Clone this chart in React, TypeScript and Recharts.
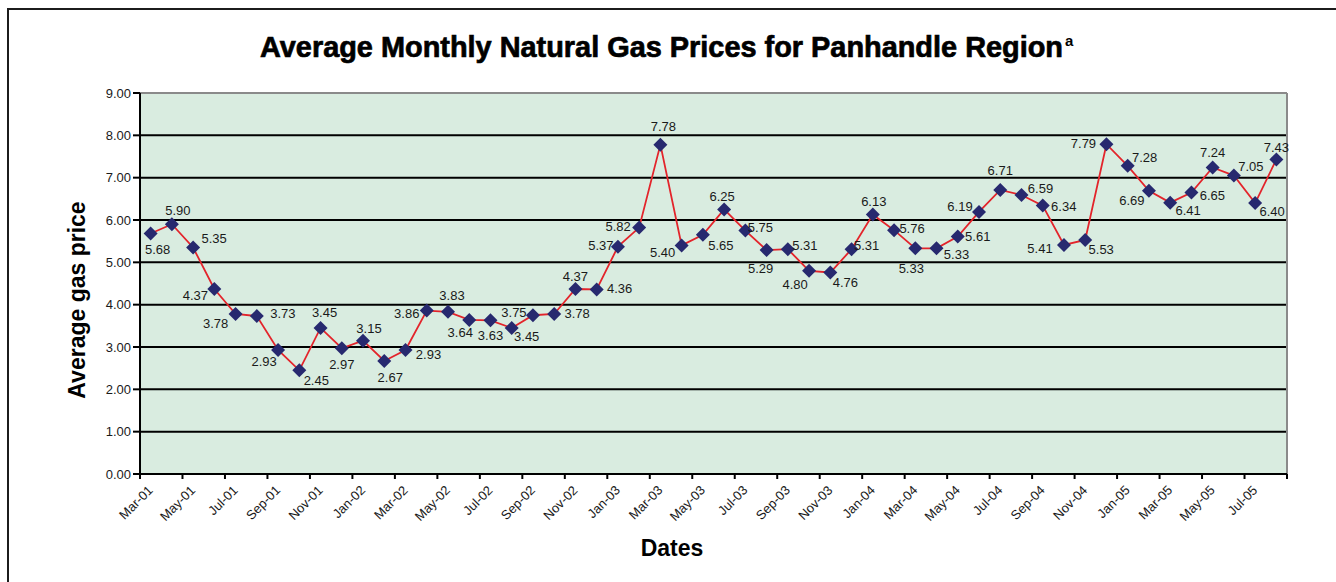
import React from 'react';
import { LineChart, Line, XAxis, YAxis, CartesianGrid, LabelList } from 'recharts';

const months = [
  'Mar-01', 'Apr-01', 'May-01', 'Jun-01', 'Jul-01', 'Aug-01', 'Sep-01', 'Oct-01', 'Nov-01', 'Dec-01',
  'Jan-02', 'Feb-02', 'Mar-02', 'Apr-02', 'May-02', 'Jun-02', 'Jul-02', 'Aug-02', 'Sep-02', 'Oct-02', 'Nov-02', 'Dec-02',
  'Jan-03', 'Feb-03', 'Mar-03', 'Apr-03', 'May-03', 'Jun-03', 'Jul-03', 'Aug-03', 'Sep-03', 'Oct-03', 'Nov-03', 'Dec-03',
  'Jan-04', 'Feb-04', 'Mar-04', 'Apr-04', 'May-04', 'Jun-04', 'Jul-04', 'Aug-04', 'Sep-04', 'Oct-04', 'Nov-04', 'Dec-04',
  'Jan-05', 'Feb-05', 'Mar-05', 'Apr-05', 'May-05', 'Jun-05', 'Jul-05', 'Aug-05',
];

const prices = [
  5.68, 5.90, 5.35, 4.37, 3.78, 3.73, 2.93, 2.45, 3.45, 2.97,
  3.15, 2.67, 2.93, 3.86, 3.83, 3.64, 3.63, 3.45, 3.75, 3.78, 4.37, 4.36,
  5.37, 5.82, 7.78, 5.40, 5.65, 6.25, 5.75, 5.29, 5.31, 4.80, 4.76, 5.31,
  6.13, 5.76, 5.33, 5.33, 5.61, 6.19, 6.71, 6.59, 6.34, 5.41, 5.53, 7.79,
  7.28, 6.69, 6.41, 6.65, 7.24, 7.05, 6.40, 7.43,
];

const yTicks = [0, 1, 2, 3, 4, 5, 6, 7, 8, 9];

// label placement offsets (dx, dy) relative to each marker (styling only)
const labelOffsets: [number, number][] = [
  [7, 16], [6, -14], [21, -9], [-19, 6], [-20, 10], [26, -3], [-14, 12], [17, 10], [4, -15], [0, 16],
  [6, -12], [6, 17], [23, 5], [-20, 3], [4, -16], [-9, 13], [0, 15], [15, 9], [-19, -3], [23, 0], [0, -13], [23, -1],
  [-17, -1], [-21, -1], [3, -18], [-19, 7], [18, 11], [-2, -13], [15, -3], [-6, 18], [17, -4], [-14, 14], [15, 10], [15, -4],
  [1, -13], [18, -2], [-4, 20], [20, 6], [20, 0], [-19, -5], [0, -19], [19, -7], [21, 1], [-24, 4], [16, 10], [-23, -1],
  [17, -8], [-17, 10], [18, 8], [21, 3], [0, -15], [17, -9], [17, 8], [0, -12],
];

const W = 1336;
const H = 582;
const M = { top: 93, right: 49, bottom: 48, left: 80 };
const Y_AXIS_W = 60;
const X_AXIS_H = 60;
const PLOT_L = M.left + Y_AXIS_W;
const PLOT_R = W - M.right;
const PLOT_T = M.top;
const BAND = (PLOT_R - PLOT_L) / months.length;

const data = months.map((m, i) => ({ month: m, price: prices[i] }));

const FONT = "'Liberation Sans', Arial, Helvetica, sans-serif";

function XTick(props: any) {
  const { x, y, payload } = props;
  const i = props.index ?? payload?.index ?? 0;
  const els: React.ReactNode[] = [];
  if (i % 2 === 0) {
    els.push(
      <line key="t" x1={x - BAND / 2} x2={x - BAND / 2} y1={y} y2={y + 5} stroke="#000" strokeWidth={2} />
    );
    const tx = x + 3;
    const ty = y + 17;
    els.push(
      <text
        key="l"
        x={tx}
        y={ty}
        transform={`rotate(-45, ${tx}, ${ty})`}
        textAnchor="end"
        fontSize={13}
        fontFamily={FONT}
        fill="#1a1a1a"
      >
        {payload.value}
      </text>
    );
  }
  if (i === months.length - 1) {
    els.push(
      <line key="e" x1={x + BAND / 2} x2={x + BAND / 2} y1={y} y2={y + 5} stroke="#000" strokeWidth={2} />
    );
  }
  return <g>{els}</g>;
}

function YTick(props: any) {
  const { x, y, payload } = props;
  return (
    <text x={x} y={y + 4.5} textAnchor="end" fontSize={13} fontFamily={FONT} fill="#1a1a1a">
      {Number(payload.value).toFixed(2)}
    </text>
  );
}

function Diamond(props: any) {
  const { cx, cy, index } = props;
  if (cx == null || cy == null) return <g key={index} />;
  const r = 7;
  return (
    <polygon
      key={index}
      points={`${cx},${cy - r} ${cx + r},${cy} ${cx},${cy + r} ${cx - r},${cy}`}
      fill="#27296f"
    />
  );
}

function PriceLabel(props: any) {
  const { x, y, value, index } = props;
  const off = labelOffsets[index] || [0, -14];
  return (
    <text
      x={x + off[0]}
      y={y + off[1] + 4.5}
      textAnchor="middle"
      fontSize={13}
      fontFamily={FONT}
      fill="#1a1a1a"
    >
      {Number(value).toFixed(2)}
    </text>
  );
}

export default function App() {
  return (
    <div style={{ position: 'absolute', left: 0, top: 0, width: W, height: H, background: '#fff', overflow: 'hidden' }}>
      <div style={{ position: 'absolute', left: 8, top: 8, width: W, height: 2, background: '#1c1c1c' }} />
      <div style={{ position: 'absolute', left: 7, top: 8, width: 2, height: H, background: '#1c1c1c' }} />
      <div style={{ position: 'absolute', left: 0, top: 0 }}>
        <LineChart width={W} height={H} data={data} margin={M}>
          <CartesianGrid
            vertical={false}
            stroke="#000"
            strokeWidth={2}
            fill="#d9ece0"
            fillOpacity={1}
          />
          <CartesianGrid
            horizontalPoints={[PLOT_T]}
            verticalPoints={[PLOT_R]}
            stroke="#8a8a8a"
            strokeWidth={2}
          />
          <XAxis
            dataKey="month"
            scale="band"
            interval={0}
            height={X_AXIS_H}
            tickSize={0}
            tickMargin={0}
            tickLine={false}
            axisLine={{ stroke: '#000', strokeWidth: 2 }}
            tick={<XTick />}
          />
          <YAxis
            domain={[0, 9]}
            ticks={yTicks}
            width={Y_AXIS_W}
            tickSize={7}
            tickMargin={2}
            tick={<YTick />}
            tickLine={{ stroke: '#000', strokeWidth: 2 }}
            axisLine={{ stroke: '#000', strokeWidth: 2 }}
            allowDataOverflow
          />
          <Line
            type="linear"
            dataKey="price"
            stroke="#e3242b"
            strokeWidth={1.8}
            dot={Diamond}
            activeDot={false}
            isAnimationActive={false}
          >
            <LabelList dataKey="price" content={PriceLabel} />
          </Line>
        </LineChart>
      </div>
      <svg
        width={W}
        height={H}
        style={{ position: 'absolute', left: 0, top: 0, pointerEvents: 'none' }}
      >
        <text
          x={260}
          y={57}
          fontSize={29}
          fontWeight={700}
          fontFamily={FONT}
          fill="#000"
          stroke="#000"
          strokeWidth={0.7}
          textLength={803}
          lengthAdjust="spacingAndGlyphs"
        >
          Average Monthly Natural Gas Prices for Panhandle Region
        </text>
        <text x={1065} y={46} fontSize={15} fontWeight={700} fontFamily={FONT} fill="#000">
          a
        </text>
        <text
          x={85}
          y={300}
          transform="rotate(-90, 85, 300)"
          textAnchor="middle"
          fontSize={23}
          fontWeight={700}
          fontFamily={FONT}
          fill="#000"
        >
          Average gas price
        </text>
        <text x={672} y={556} textAnchor="middle" fontSize={23} fontWeight={700} fontFamily={FONT} fill="#000">
          Dates
        </text>
      </svg>
    </div>
  );
}
